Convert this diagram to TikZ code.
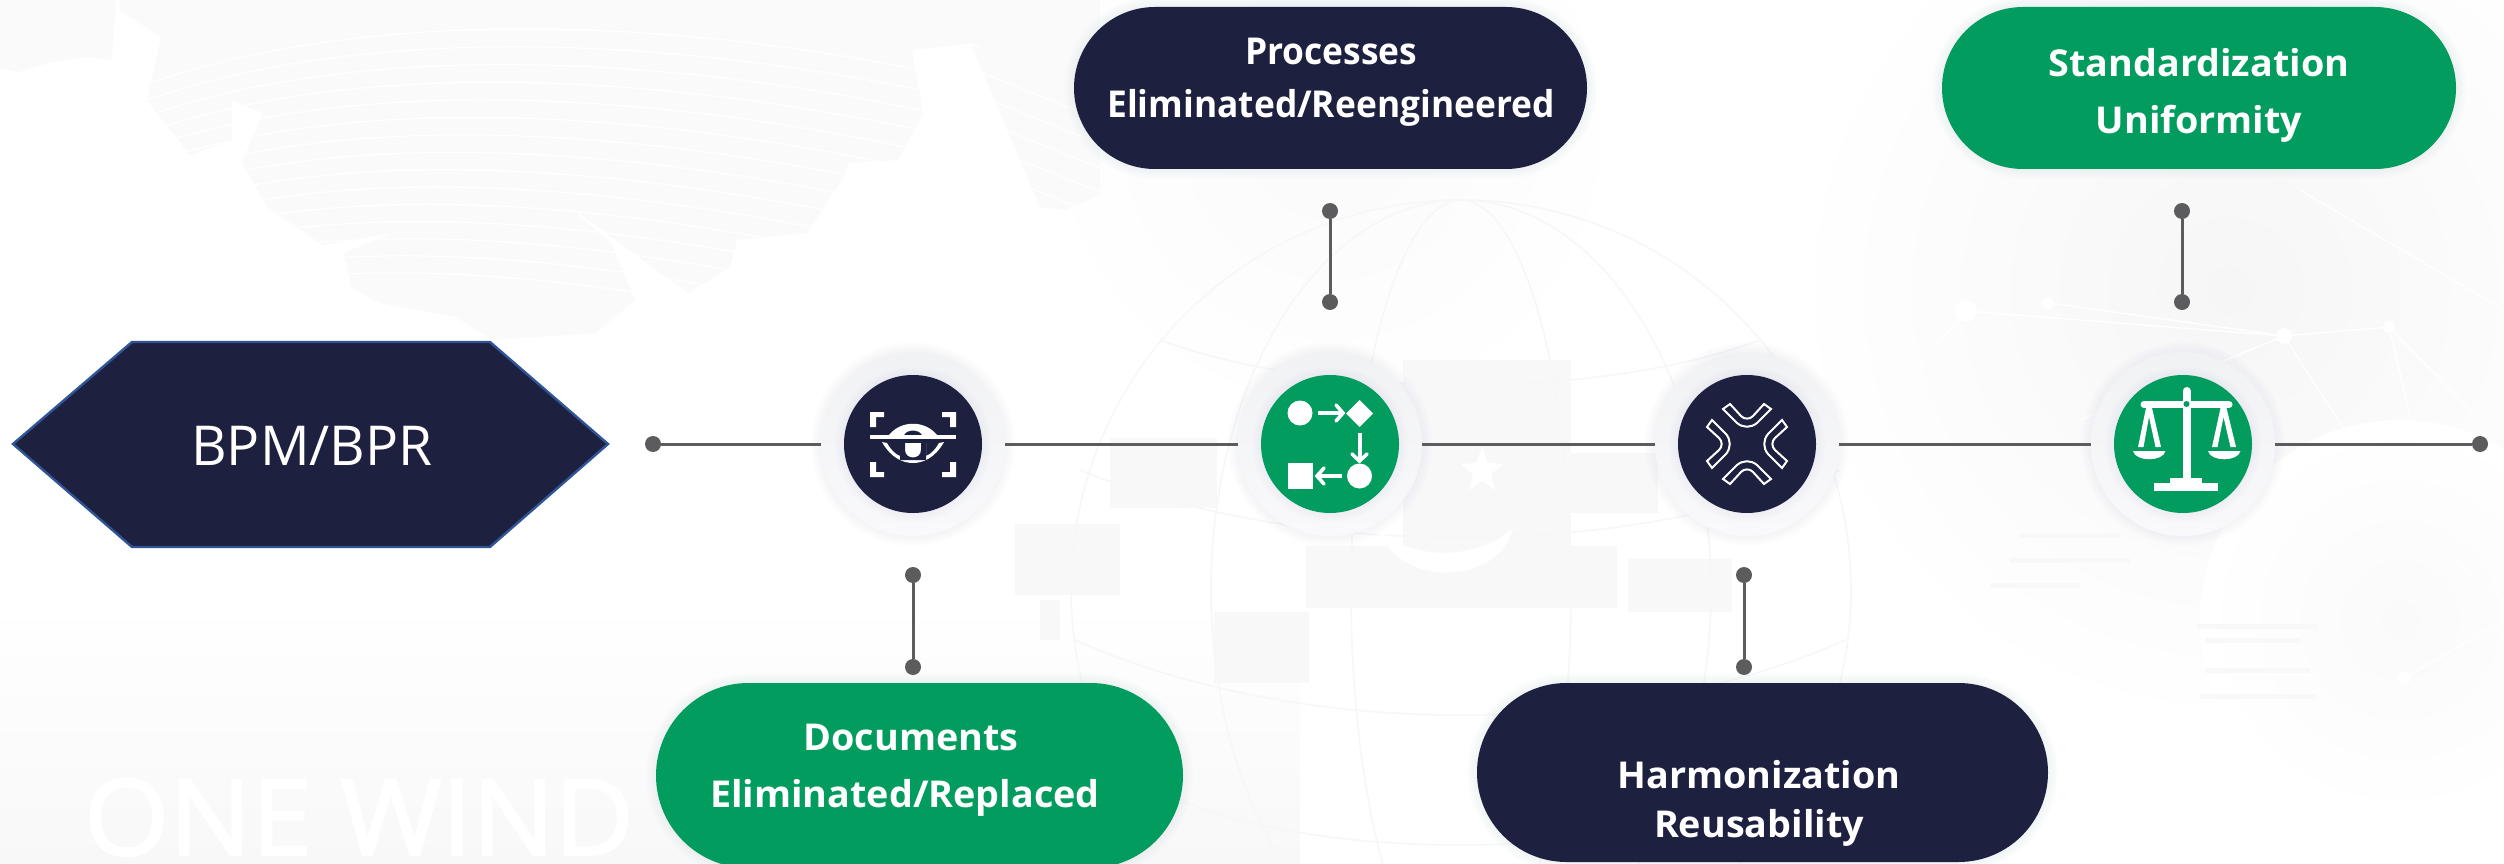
\documentclass[tikz,border=0pt]{standalone}
\usepackage{fontspec}
\setmainfont{Open Sans}
\newfontfamily\lblfont{Open Sans}[FakeStretch=1.02,BoldFont={Open Sans Bold},BoldFeatures={FakeStretch=1.02}]
\newfontfamily\lblnarrow{Open Sans}[FakeStretch=0.955,BoldFont={Open Sans Bold},BoldFeatures={FakeStretch=0.955}]
\newfontfamily\hexfont{Open Sans}[FakeStretch=1.0]
\newfontfamily\markfont{Open Sans}[FakeStretch=1.04,FakeBold=2]
\usetikzlibrary{shapes.misc}
\definecolor{navy}{HTML}{1D203F}
\definecolor{leaf}{HTML}{019C5E}
\definecolor{wire}{HTML}{5C5C5E}
\definecolor{ringtop}{HTML}{F1F2F4}
\definecolor{ringbot}{HTML}{F9F9FB}
\definecolor{shadowc}{HTML}{8F9BBA}
\definecolor{hexedge}{HTML}{2F5597}
\definecolor{wash}{HTML}{FAFAFB}
\definecolor{wash2}{HTML}{F6F6F7}
\definecolor{washlow}{HTML}{F8F8F9}
\definecolor{globec}{HTML}{F6F7F8}
\definecolor{blockc}{HTML}{F8F8F9}
\newcommand{\softdisc}[3]{\foreach \g in {10,8,...,2}{\fill[shadowc,opacity=.014] (#1,#2) circle ({#3+\g});}}
\newcommand{\softbox}[4]{\foreach \g in {10,8,...,2}{\pgfmathsetmacro{\rr}{(#4-#2)/2+\g}\fill[shadowc,opacity=.02,rounded corners=\rr pt] ({#1-\g},{#2-\g}) rectangle ({#3+\g},{#4+\g});}}
\tikzset{
  x=1pt,y=-1pt,
  pill/.style={rounded rectangle,rounded rectangle arc length=180,inner sep=0pt,outer sep=0pt,draw=none},
  ring/.style={circle,top color=ringtop,bottom color=ringbot,inner sep=0pt,outer sep=0pt,minimum size=184pt},
  core/.style={circle,inner sep=0pt,outer sep=0pt,minimum size=138pt},
  lbl/.style={anchor=base,text=white,font={\lblfont\fontsize{37}{40}\selectfont\bfseries},inner sep=0pt},
  lbln/.style={anchor=base,text=white,font={\lblnarrow\fontsize{37}{40}\selectfont\bfseries},inner sep=0pt},
  wirel/.style={wire,line width=3pt},
  dot/.style={circle,fill=wire,inner sep=0pt,outer sep=0pt,minimum size=16pt},
  glyph/.style={white,line width=#1,line cap=butt},
  glyph/.default=4pt,
}
\begin{document}
\begin{tikzpicture}
\useasboundingbox (0,0) rectangle (2504,864);
\clip (0,0) rectangle (2504,864);
%% ---------- faint background ----------
\fill[white] (0,0) rectangle (2504,864);
\shade[top color=white,bottom color=washlow] (0,600) rectangle (1300,864);
\shade[inner color=wash2,outer color=white] (2230,290) circle (440);
\shade[inner color=wash,outer color=white] (2400,620) circle (200);
\shade[inner color=wash,outer color=white] (1330,130) circle (300);
% map
\def\blobpath{(119,0) -- (119,10) -- (161,37) -- (147,100) -- (190,155) -- (232,140) -- (232,100) -- (263,113) -- (242,163) -- (267,207) -- (323,245) -- (393,233) -- (344,253) -- (351,287) -- (379,303) -- (456,317) -- (491,340) -- (596,333) -- (635,300) -- (611,243) -- (561,200) -- (688,293) -- (730,267) -- (737,240) -- (807,233) -- (842,180) -- (849,163) -- (898,160) -- (923,113) -- (912,50) -- (972,43) -- (982,47) -- (1010,67) -- (1053,70) -- (1100,90) -- (1100,0) -- cycle}
\fill[wash] (0,0) -- (116,0) -- (112,60) -- (84,57) -- (49,63) -- (18,72) -- (0,68) -- cycle;
\begin{scope}
\clip \blobpath;
\fill[wash] (0,0) rectangle (1100,345);
\foreach \k in {0,...,14}{
  \draw[white,line width=1.2pt] (130,{90+16*\k}) .. controls (330,{15+16*\k}) and (620,{10+19*\k}) .. (920,{70+20*\k});
}
\end{scope}
\fill[wash] (972,47) -- (982,47) -- (1010,67) -- (1053,70) -- (1100,62) -- (1100,195) -- (1065,210) -- (1040,207) -- cycle;
\foreach \k in {0,...,5}{\draw[white,line width=1.2pt] (975,{70+24*\k}) -- (1100,{120+24*\k});}
% squares
\foreach \a/\b/\c/\d in {1403/360/1571/608,1306/546/1617/608,1110/438/1217/508,1214/612/1309/683,1628/559/1732/612,1015/524/1120/595,1571/453/1658/513,1040/600/1060/640}{
  \fill[blockc] (\a,\b) rectangle (\c,\d);
}
% globe
\begin{scope}[globec,line width=1.6pt]
  \clip (1000,130) rectangle (1900,864);
  \draw (1461,590) circle (390);
  \draw (1461,590) ellipse (250 and 390);
  \draw (1461,590) ellipse (110 and 390);
  \draw (1080,470) .. controls (1300,560) and (1620,560) .. (1840,470);
  \draw (1075,640) .. controls (1300,740) and (1620,740) .. (1845,640);
  \draw (1160,340) .. controls (1320,400) and (1600,400) .. (1760,340);
  \draw (1180,800) .. controls (1320,860) and (1600,860) .. (1740,800);
\end{scope}
% crescent and star
\fill[white] (1377,528) .. controls (1400,590) and (1500,585) .. (1513,528) .. controls (1480,560) and (1410,562) .. (1377,528) -- cycle;
\fill[white] (1482,447) -- (1488,463) -- (1503,464) -- (1491,474) -- (1495,490) -- (1482,481) -- (1469,490) -- (1473,474) -- (1461,464) -- (1476,463) -- cycle;
% network
\begin{scope}[white,line width=1.4pt]
  \draw (1966,311) -- (2284,336) -- (2389,327) -- (2480,420);
  \draw (2050,303) -- (2284,336) -- (2370,470);
  \draw (2389,327) -- (2430,500);
  \draw (2284,336) -- (2080,420);
  \draw (2300,190) -- (2504,310);
  \draw (1966,311) -- (1890,400);
  \draw (2430,540) -- (2504,600);
  \draw (2404,678) -- (2504,620);
  \fill (2284,336) circle (8);
  \fill (2389,327) circle (6);
  \fill (1966,311) circle (11);
  \fill (2048,303) circle (6);
  \fill (2404,678) circle (7);
\end{scope}
\foreach \yy/\xa/\xb in {626/2197/2317,640/2205/2300,670/2205/2310,696/2200/2315,535/2020/2120,560/2010/2130,585/1990/2080}{
  \draw[blockc,line width=5pt] (\xa,\yy) -- (\xb,\yy);
}
% watermark text
\node[anchor=base west,text=white,font={\markfont\fontsize{105}{110}\selectfont},inner sep=0pt] (mark) at (84,855) {ONE WIND};
%% ---------- hexagon ----------
\fill[navy,draw=hexedge,line width=2.4pt] (13,444) -- (132,342) -- (490,342) -- (608,444) -- (490,547) -- (132,547) -- cycle;
\node[inner sep=0pt,text=white,anchor=base,font={\hexfont\fontsize{55}{60}\selectfont}] (hexlabel) at (312,465) {BPM/BPR};
%% ---------- timeline ----------
\coordinate (c1) at (913,444);
\coordinate (c2) at (1330,444);
\coordinate (c3) at (1747,444);
\coordinate (c4) at (2183,444);
\softdisc{913}{444}{92}
\softdisc{1330}{444}{92}
\softdisc{1747}{444}{92}
\softdisc{2183}{444}{92}
\node[dot] (start) at (653,444) {};
\node[dot] (finish) at (2480,444) {};
\node[ring] (r1) at (c1) {};
\node[ring] (r2) at (c2) {};
\node[ring] (r3) at (c3) {};
\node[ring] (r4) at (c4) {};
\draw[wirel] (start) -- (r1);
\draw[wirel] (r1) -- (r2);
\draw[wirel] (r2) -- (r3);
\draw[wirel] (r3) -- (r4);
\draw[wirel] (r4) -- (finish);
\softdisc{913}{444}{68}
\softdisc{1330}{444}{68}
\softdisc{1747}{444}{68}
\softdisc{2183}{444}{68}
\node[core,fill=navy] (k1) at (c1) {};
\node[core,fill=leaf] (k2) at (c2) {};
\node[core,fill=navy] (k3) at (c3) {};
\node[core,fill=leaf] (k4) at (c4) {};
%% ---------- stubs ----------
\node[dot] (s1a) at (1330,211) {};
\node[dot] (s1b) at (1330,302) {};
\node[dot] (s2a) at (2182,211) {};
\node[dot] (s2b) at (2182,302) {};
\node[dot] (s3a) at (913,575) {};
\node[dot] (s3b) at (913,667) {};
\node[dot] (s4a) at (1744,575) {};
\node[dot] (s4b) at (1744,667) {};
\draw[wirel] (s1a) -- (s1b);
\draw[wirel] (s2a) -- (s2b);
\draw[wirel] (s3a) -- (s3b);
\draw[wirel] (s4a) -- (s4b);
%% ---------- pills ----------
\softbox{1074}{7}{1587}{169}
\softbox{1942}{7}{2456}{169}
\softbox{656}{683}{1183}{868}
\softbox{1477}{683}{2048}{862}
\node[pill,fill=navy,minimum width=513pt,minimum height=162pt] (p1) at (1330.5,88) {};
\node[pill,fill=leaf,minimum width=514pt,minimum height=162pt] (p2) at (2199,88) {};
\node[pill,fill=leaf,minimum width=527pt,minimum height=185pt] (p3) at (919.5,775.5) {};
\node[pill,fill=navy,minimum width=571pt,minimum height=179pt] (p4) at (1762.5,772.5) {};
\node[lbln] (t1a) at (1331,65) {Processes};
\node[lbln] (t1b) at (1331,118) {Eliminated/Reengineered};
\node[lbl] (t2a) at (2199,77) {Standardization};
\node[lbl] (t2b) at (2199,134) {Uniformity};
\node[lbl] (t3a) at (911,750) {Documents};
\node[lbl] (t3b) at (905,807) {Eliminated/Replaced};
\node[lbl] (t4a) at (1759,788) {Harmonization};
\node[lbl] (t4b) at (1759,837) {Reusability};
%% ---------- icon 1: eye ----------
\begin{scope}[shift={(913,444)}]
  \fill[white] (-43,-32) -- (-29,-32) -- (-29,-27) -- (-37,-27) -- (-37,-17) -- (-43,-17) -- cycle;
  \fill[white] (43,-32) -- (29,-32) -- (29,-27) -- (37,-27) -- (37,-17) -- (43,-17) -- cycle;
  \fill[white] (-43,33) -- (-29,33) -- (-29,28) -- (-37,28) -- (-37,18) -- (-43,18) -- cycle;
  \fill[white] (43,33) -- (29,33) -- (29,28) -- (37,28) -- (37,18) -- (43,18) -- cycle;
  \fill[white] (-43,-9) rectangle (43,-5);
  \fill[white,even odd rule] (-24,-9) .. controls (-12,-24) and (12,-24) .. (24,-9) -- cycle
     (-9,-9) .. controls (-6,-15) and (6,-15) .. (9,-9) -- cycle;
  \fill[white] (-31,-2) -- (-26,-1) .. controls (-22,6) and (-18,10) .. (-13,12) -- (-13,-1) -- (13,-1) -- (13,12) .. controls (18,10) and (22,6) .. (26,-1) -- (31,-2) .. controls (22,14) and (10,19) .. (0,19) .. controls (-10,19) and (-22,14) .. (-31,-2) -- cycle;
  \fill[navy] (-13,-1) -- (-8,-1) -- (-8,6) .. controls (-8,16) and (8,16) .. (8,6) -- (8,-1) -- (13,-1) -- (13,16) -- (-13,16) -- cycle;
  \fill[white] (-4,-1) -- (4,-1) -- (4,7) .. controls (4,12) and (-4,12) .. (-4,7) -- cycle;
\end{scope}
%% ---------- icon 2: flow ----------
\fill[white] (1300,413) circle (12.5);
\fill[white] (1359.5,400) -- (1373,413.5) -- (1359.5,427) -- (1346,413.5) -- cycle;
\fill[white] (1359.5,476) circle (12.5);
\fill[white] (1288,463) rectangle (1313,489);
\draw[glyph=4pt] (1318,413) -- (1342,413);
\draw[glyph=3.6pt,line cap=round] (1336,405) -- (1343,413) -- (1336,421);
\draw[glyph=4pt] (1359.5,433) -- (1359.5,459);
\draw[glyph=3.6pt,line cap=round] (1352,454) -- (1359.5,461) -- (1367,454);
\draw[glyph=4pt] (1342,476) -- (1318,476);
\draw[glyph=3.6pt,line cap=round] (1324,468) -- (1317,476) -- (1324,484);
%% ---------- icon 3: four chevrons ----------
\foreach \rot in {0,90,180,270}{
  \begin{scope}[shift={(1747,444)},rotate=\rot]
    \draw[white,line width=2pt,line join=miter] (-17,-40) -- (-6,-28) .. controls (-3,-24.5) and (3,-24.5) .. (6,-28) -- (17,-40) -- (24,-35) -- (10,-21) .. controls (4,-16) and (-4,-16) .. (-10,-21) -- (-24,-35) -- cycle;
  \end{scope}
}
%% ---------- icon 4: scales ----------
\draw[white,line width=8pt,line cap=round] (2186.5,391) -- (2186.5,404);
\fill[white] (2182.5,400) rectangle (2190.5,480);
\draw[white,line width=7pt,line cap=round] (2144,404.5) -- (2229,404.5);
\fill[leaf] (2186.5,404) circle (3);
\fill[white] (2170,478) rectangle (2202,484);
\fill[white] (2154,483) rectangle (2218,491);
\fill[white] (2146,408) -- (2152,408) -- (2161,447) -- (2155.5,447) -- (2149,417) -- (2143.5,447) -- (2138,447) -- cycle;
\fill[white] (2220.5,408) -- (2226.5,408) -- (2236,447) -- (2230.5,447) -- (2223.5,417) -- (2217.5,447) -- (2212,447) -- cycle;
\fill[white] (2133,451) -- (2165.5,451) .. controls (2163,462) and (2135.5,462) .. (2133,451) -- cycle;
\fill[white] (2208,451) -- (2240.5,451) .. controls (2238,462) and (2210.5,462) .. (2208,451) -- cycle;
\end{tikzpicture}
\end{document}
